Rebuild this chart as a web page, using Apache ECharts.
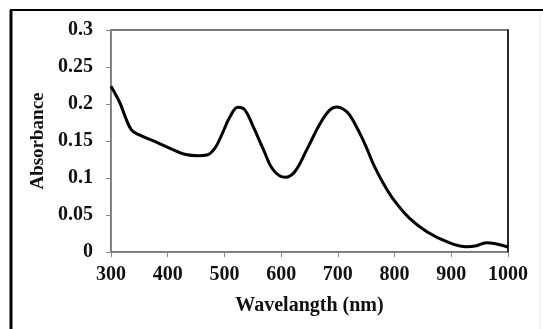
<!DOCTYPE html>
<html>
<head>
<meta charset="utf-8">
<script src="https://cdn.jsdelivr.net/npm/echarts@6/dist/echarts.min.js"></script>
<style>
  html, body { margin: 0; padding: 0; background: #fff; }
  #container { width: 543px; height: 329px; }
</style>
</head>
<body>
<div id="container"></div>
<script>
// wavelength (nm) and absorbance
const wavelength = [300, 316, 325, 336, 348, 378, 407, 430, 454, 469, 483, 495, 510, 524, 536, 551, 569, 586, 607, 624, 645, 669, 686, 698, 710, 721, 739, 751, 763, 780, 800, 827, 857, 892, 927, 942, 962, 980, 1000]
const absorbance = [0.224, 0.201, 0.183, 0.165, 0.159, 0.149, 0.139, 0.132, 0.130, 0.131, 0.140, 0.158, 0.183, 0.1955, 0.192, 0.169, 0.138, 0.111, 0.101, 0.1085, 0.138, 0.174, 0.192, 0.196, 0.193, 0.185, 0.160, 0.140, 0.118, 0.093, 0.069, 0.045, 0.0275, 0.014, 0.0072, 0.008, 0.0126, 0.0108, 0.0068]
const xTicks = [300, 400, 500, 600, 700, 800, 900, 1000]
const yTicks = [0, 0.05, 0.1, 0.15, 0.2, 0.25, 0.3]

const myChart = echarts.init(document.getElementById('container'))

const font = 'Liberation Serif'

const option = {
    backgroundColor: '#fff',
    animation: false,
    grid: {
        left: 111,
        right: 35,
        top: 30,
        bottom: 77,
        show: true,
        borderColor: '#777',
        borderWidth: 2,
        backgroundColor: 'transparent'
    },
    graphic: [
        // outer frame
        { type: 'line', shape: { x1: 11, y1: 10, x2: 11, y2: 329 }, style: { stroke: '#000', lineWidth: 3 } },
        { type: 'line', shape: { x1: 10, y1: 10, x2: 543, y2: 10 }, style: { stroke: '#000', lineWidth: 2 } },
        { type: 'line', shape: { x1: 540, y1: 12, x2: 540, y2: 329 }, style: { stroke: '#e4e4e4', lineWidth: 1 } }
    ],
    xAxis: {
        type: 'value',
        min: xTicks[0],
        max: xTicks[xTicks.length - 1],
        interval: 100,
        name: 'Wavelangth (nm)',
        nameLocation: 'middle',
        nameGap: 44,
        nameTextStyle: { fontFamily: font, fontWeight: 'bold', fontSize: 20, color: '#111' },
        axisLine: { show: true, lineStyle: { color: '#888', width: 1 } },
        axisTick: { show: true, length: 5, lineStyle: { color: '#888' } },
        axisLabel: {
            margin: 13,
            fontFamily: font,
            fontWeight: 'bold',
            fontSize: 20,
            color: '#111',
            formatter: v => String(v)
        },
        splitLine: { show: false }
    },
    yAxis: [
        {
            type: 'value',
            min: yTicks[0],
            max: yTicks[yTicks.length - 1],
            interval: 0.05,
            name: 'Absorbance',
            nameLocation: 'middle',
            nameGap: 61,
            nameRotate: 90,
            nameTextStyle: { fontFamily: font, fontWeight: 'bold', fontSize: 19, color: '#111' },
            axisLine: { show: true, lineStyle: { color: '#888', width: 1 } },
            axisTick: { show: true, length: 5, lineStyle: { color: '#888' } },
            axisLabel: {
                margin: 18,
                fontFamily: font,
                fontWeight: 'bold',
                fontSize: 20,
                color: '#111',
                formatter: v => String(Math.round(v * 100) / 100)
            },
            splitLine: { show: false }
        },
        {
            type: 'value',
            position: 'right',
            min: yTicks[0],
            max: yTicks[yTicks.length - 1],
            axisLine: { show: true, lineStyle: { color: '#111', width: 1.5 } },
            axisTick: { show: false },
            axisLabel: { show: false },
            splitLine: { show: false }
        }
    ],
    series: [
        {
            type: 'line',
            data: wavelength.map((w, i) => [w, absorbance[i]]),
            smooth: 0.4,
            symbol: 'none',
            lineStyle: { color: '#000', width: 3 }
        }
    ]
}

myChart.setOption(option)
</script>
</body>
</html>
